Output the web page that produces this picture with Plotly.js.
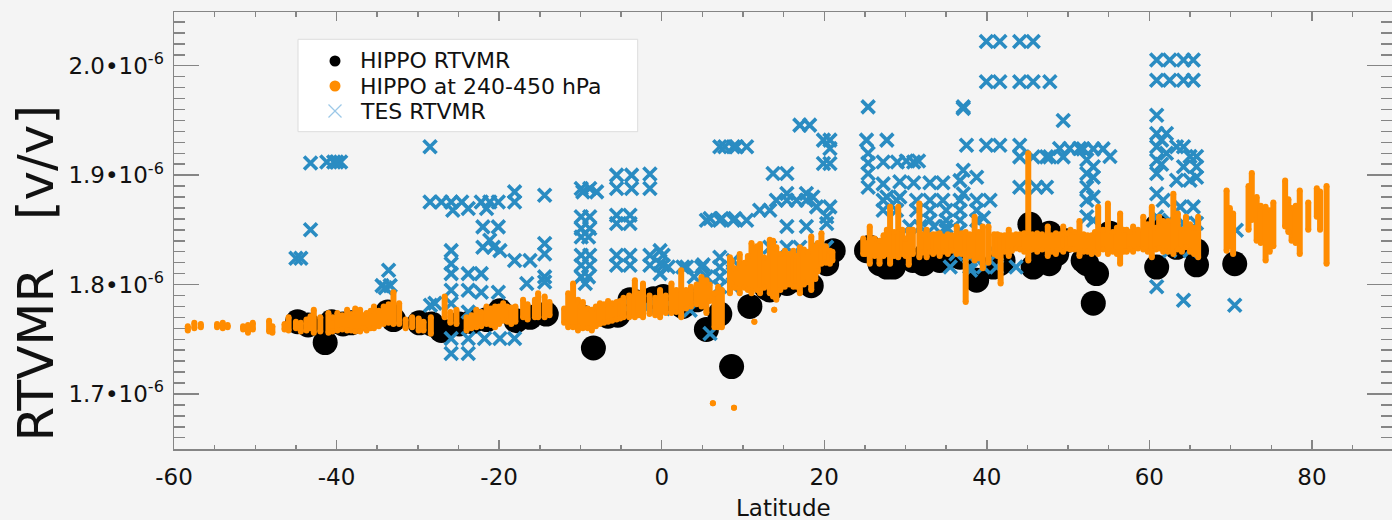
<!DOCTYPE html>
<html><head><meta charset="utf-8">
<script src="https://cdn.plot.ly/plotly-3.0.1.min.js"></script>
<style>html,body{margin:0;padding:0;background:#f4f4f4;} #chart{width:1392px;height:520px;}</style>
</head><body><div id="chart"></div>
<script>
// Values are RTVMR in units of 1e-6 v/v
const seriesNames = ['HIPPO RTVMR', 'HIPPO at 240-450 hPa', 'TES RTVMR'];
const seriesColors = ['#000000', '#ff8c00', '#2a8cc2'];

// HIPPO RTVMR: [latitude, value]
const hippoPoints = [
 [-44.8,1.766],[-43.5,1.763],[-41.4,1.747],[-40.6,1.766],[-39.2,1.764],[-38.2,1.765],
 [-33.7,1.775],[-33.0,1.768],[-29.8,1.765],[-28.3,1.764],[-27.1,1.758],[-24.9,1.764],[-23.3,1.766],
 [-21.5,1.768],[-19.9,1.776],[-17.9,1.767],[-16.2,1.770],[-14.2,1.773],
 [-9.7,1.770],[-8.4,1.742],[-6.6,1.771],[-5.4,1.772],[-3.9,1.786],[-3.1,1.784],[-1.0,1.787],
 [0.2,1.789],[0.6,1.787],[2.2,1.783],[2.6,1.780],[4.3,1.786],[5.5,1.759],[7.15,1.773],[8.6,1.725],
 [10.85,1.780],[12.9,1.797],[13.3,1.795],[15.4,1.801],[17.0,1.804],[18.4,1.799],[20.3,1.819],[21.1,1.831],
 [25.2,1.831],[25.6,1.834],[26.85,1.819],[27.7,1.816],[28.5,1.838],[28.5,1.816],[30.9,1.822],[32.2,1.819],
 [32.6,1.828],[34.2,1.822],[35.05,1.825],[36.7,1.825],[37.5,1.828],[38.75,1.804],[40.8,1.816],[41.6,1.819],
 [42.0,1.822],[45.3,1.855],[45.7,1.816],[46.4,1.820],[47.7,1.847],[47.7,1.819],[48.6,1.828],[49.8,1.840],
 [51.85,1.822],[52.3,1.819],[53.1,1.783],[53.5,1.810],[55.15,1.847],[60.9,1.853],[60.9,1.816],[62.5,1.847],
 [63.35,1.834],[65.8,1.831],[65.8,1.818],[70.5,1.819]
];

// HIPPO at 240-450 hPa: vertical profiles [latitude, lowest value, highest value]
const hippoMidPoints = [
 [-58.3,1.758,1.762],[-57.5,1.760,1.765],[-56.7,1.761,1.764],[-54.7,1.761,1.764],[-54.0,1.760,1.765],
 [-53.4,1.761,1.763],[-51.5,1.759,1.762],[-50.9,1.756,1.763],[-50.3,1.759,1.765],[-48.3,1.757,1.767],
 [-47.9,1.756,1.762],[-46.4,1.759,1.764],[-45.9,1.758,1.770],[-45.0,1.760,1.766],[-44.4,1.757,1.765],
 [-43.7,1.758,1.768],[-43.2,1.760,1.771],[-42.8,1.756,1.777],[-42.0,1.757,1.770],[-41.0,1.756,1.774],
 [-40.5,1.757,1.770],[-39.9,1.758,1.774],[-39.3,1.759,1.772],[-38.7,1.758,1.777],[-38.2,1.758,1.773],
 [-37.7,1.757,1.778],[-37.1,1.757,1.777],[-36.7,1.760,1.772],[-36.3,1.758,1.774],[-35.8,1.760,1.776],
 [-35.4,1.760,1.780],[-34.8,1.762,1.776],[-34.2,1.764,1.780],[-33.6,1.765,1.782],[-33.0,1.764,1.793],
 [-32.3,1.764,1.783],[-31.5,1.760,1.768],[-30.7,1.761,1.770],[-29.9,1.758,1.769],[-29.3,1.758,1.766],
 [-28.4,1.755,1.770],[-26.7,1.770,1.789],[-26.0,1.765,1.775],[-25.25,1.764,1.777],[-24.0,1.758,1.770],
 [-23.4,1.760,1.772],[-22.8,1.761,1.777],[-22.2,1.762,1.775],[-21.55,1.764,1.780],[-21.0,1.763,1.778],
 [-20.5,1.761,1.780],[-20.0,1.764,1.780],[-19.5,1.767,1.783],[-19.0,1.766,1.780],[-18.5,1.764,1.779],
 [-18.0,1.766,1.780],[-17.05,1.770,1.786],[-16.5,1.768,1.782],[-15.6,1.770,1.786],[-15.2,1.770,1.792],
 [-14.4,1.770,1.789],[-13.8,1.772,1.784],[-12.0,1.765,1.778],[-11.5,1.761,1.792],[-10.9,1.761,1.801],
 [-10.3,1.758,1.786],[-10.0,1.762,1.780],[-9.7,1.760,1.784],[-9.1,1.760,1.778],[-8.6,1.758,1.777],
 [-8.1,1.762,1.780],[-7.6,1.764,1.783],[-7.1,1.765,1.782],[-6.6,1.766,1.785],[-6.1,1.767,1.783],
 [-5.55,1.768,1.784],[-5.1,1.769,1.785],[-4.7,1.770,1.788],[-4.0,1.770,1.790],[-3.3,1.770,1.804],
 [-2.8,1.772,1.792],[-2.3,1.770,1.801],[-1.5,1.773,1.790],[-0.8,1.772,1.788],[-0.2,1.770,1.795],
 [0.5,1.774,1.790],[1.2,1.774,1.801],[1.8,1.775,1.795],[2.4,1.770,1.813],[3.0,1.778,1.795],
 [3.6,1.780,1.798],[4.3,1.782,1.800],[4.9,1.780,1.807],[5.5,1.774,1.804],[5.9,1.785,1.800],
 [6.5,1.761,1.792],[6.95,1.761,1.798],[7.4,1.761,1.795],[8.4,1.792,1.825],[8.6,1.801,1.822],
 [9.0,1.797,1.815],[9.6,1.792,1.828],[10.2,1.797,1.820],[10.6,1.795,1.826],[11.05,1.792,1.838],
 [11.7,1.795,1.835],[12.1,1.792,1.837],[12.6,1.797,1.825],[13.3,1.792,1.841],[13.7,1.789,1.840],
 [14.1,1.786,1.834],[14.6,1.795,1.828],[15.15,1.798,1.831],[15.7,1.800,1.828],[16.2,1.798,1.831],
 [16.6,1.798,1.826],[17.0,1.792,1.834],[17.5,1.800,1.832],[18.0,1.802,1.830],[18.4,1.795,1.844],
 [18.9,1.805,1.835],[19.2,1.812,1.838],[19.65,1.819,1.847],[20.2,1.820,1.835],[20.7,1.819,1.831],
 [21.0,1.822,1.830],
 [24.8,1.828,1.842],[25.1,1.828,1.838],[25.6,1.819,1.853],[26.2,1.826,1.842],[26.8,1.819,1.840],
 [27.3,1.826,1.845],[27.7,1.828,1.850],[28.1,1.819,1.871],[28.6,1.826,1.848],[29.1,1.825,1.871],
 [29.6,1.828,1.850],[30.0,1.826,1.842],[30.4,1.818,1.850],[30.9,1.828,1.850],[31.7,1.825,1.874],
 [32.1,1.829,1.846],[32.6,1.825,1.850],[33.0,1.830,1.845],[33.4,1.828,1.846],[33.8,1.830,1.846],
 [34.2,1.826,1.847],[34.7,1.830,1.844],[35.2,1.828,1.846],[35.7,1.831,1.845],[36.3,1.828,1.853],
 [36.9,1.828,1.847],[37.4,1.784,1.848],[37.9,1.826,1.846],[38.5,1.822,1.862],[39.0,1.824,1.848],
 [39.5,1.815,1.853],[40.2,1.820,1.853],[40.9,1.828,1.846],[41.3,1.826,1.846],[41.7,1.801,1.845],
 [42.2,1.830,1.845],[42.7,1.826,1.850],[43.1,1.831,1.845],[43.6,1.833,1.846],[44.1,1.832,1.846],
 [44.6,1.830,1.847],[45.1,1.822,1.920],[45.6,1.832,1.846],[46.2,1.830,1.847],[46.8,1.832,1.846],
 [47.5,1.826,1.853],[48.0,1.830,1.845],[48.5,1.828,1.847],[49.0,1.832,1.846],[49.4,1.830,1.853],
 [49.9,1.833,1.847],[50.3,1.832,1.850],[50.8,1.832,1.848],[51.4,1.826,1.858],[51.9,1.830,1.846],
 [52.4,1.830,1.845],[52.9,1.828,1.845],[53.3,1.830,1.848],[53.7,1.828,1.871],[54.3,1.832,1.850],
 [54.9,1.828,1.874],[55.5,1.830,1.848],[56.0,1.828,1.852],[56.4,1.819,1.865],[56.8,1.830,1.850],
 [57.2,1.830,1.850],[57.6,1.832,1.848],[58.0,1.830,1.853],[58.6,1.833,1.850],[59.25,1.832,1.862],
 [59.8,1.830,1.855],[60.3,1.825,1.871],[60.8,1.832,1.852],[61.2,1.833,1.862],[61.7,1.830,1.858],
 [62.3,1.830,1.858],[62.95,1.828,1.883],[63.5,1.832,1.865],[64.0,1.830,1.850],[64.5,1.834,1.862],
 [65.0,1.830,1.855],[65.5,1.828,1.852],[66.0,1.825,1.862],
 [69.5,1.831,1.886],[69.9,1.835,1.870],[70.3,1.828,1.865],[72.2,1.850,1.890],
 [72.6,1.859,1.902],[73.2,1.840,1.880],[73.7,1.838,1.872],[74.3,1.822,1.871],[74.8,1.830,1.868],
 [75.25,1.835,1.875],[76.7,1.853,1.895],[77.1,1.848,1.878],
 [77.5,1.840,1.870],[78.0,1.838,1.872],[78.5,1.828,1.886],[79.55,1.850,1.875],
 [80.6,1.862,1.888],[81.0,1.850,1.885],[81.8,1.819,1.890],
 [6.3,1.6915,1.6915],[8.9,1.6875,1.6875],[11.4,1.766,1.766],[13.85,1.777,1.777]
];

// TES RTVMR: [latitude, value]
const tesPoints = [
 [-45.0,1.824],[-44.4,1.824],[-43.2,1.850],[-43.2,1.911],[-41.2,1.912],[-40.35,1.912],[-39.5,1.912],[-40.0,1.912],
 [-34.4,1.799],[-33.4,1.799],[-34.0,1.797],[-33.6,1.813],
 [-28.5,1.926],[-28.5,1.8755],[-28.45,1.781],[-27.9,1.783],
 [-27.1,1.8755],[-25.9,1.8755],[-24.6,1.8755],[-25.7,1.868],[-23.8,1.8695],
 [-22.2,1.8755],[-21.15,1.8755],[-20.1,1.8755],[-21.55,1.8695],
 [-22.0,1.8527],[-20.1,1.8527],[-21.15,1.8405],[-22.0,1.834],[-20.7,1.834],[-19.9,1.831],
 [-25.9,1.831],[-25.9,1.819],[-25.9,1.810],[-23.8,1.810],[-22.2,1.810],[-25.9,1.7948],[-23.8,1.7948],
 [-22.2,1.793],[-20.1,1.793],[-25.9,1.7826],[-23.8,1.775],[-25.9,1.7506],[-23.8,1.7506],[-25.9,1.737],
 [-23.8,1.737],[-21.8,1.7506],[-19.9,1.7506],[-18.1,1.7506],
 [-18.1,1.8847],[-18.1,1.8755],[-14.4,1.8817],[-18.1,1.822],[-16.2,1.822],[-14.4,1.8375],[-14.4,1.828],
 [-14.4,1.807],[-14.4,1.8024],[-16.6,1.801],
 [-9.9,1.8878],[-8.85,1.8878],[-9.7,1.8847],[-8.0,1.8847],
 [-9.9,1.862],[-8.85,1.862],[-9.9,1.8512],[-8.85,1.8512],[-9.9,1.8435],[-9.0,1.8435],
 [-9.9,1.8268],[-8.85,1.8268],[-9.9,1.8177],[-8.85,1.8177],[-9.9,1.807],[-9.0,1.807],[-9.4,1.801],
 [-5.55,1.900],[-3.7,1.900],[-1.45,1.901],[-5.55,1.8878],[-3.7,1.8878],[-1.45,1.8878],
 [-5.55,1.8634],[-3.9,1.8634],[-5.55,1.8558],[-3.9,1.8558],
 [-5.55,1.8268],[-3.9,1.8268],[-1.45,1.8268],[0.18,1.8268],[-5.55,1.8177],[-3.9,1.8177],[-1.45,1.8177],
 [0.18,1.8177],[0.8,1.816],[-3.9,1.781],[-1.67,1.7795],[0.18,1.778],
 [-0.2,1.831],[-0.2,1.819],[-0.2,1.810],
 [3.06,1.816],[4.9,1.816],[7.15,1.816],[2.6,1.816],[7.15,1.825],[7.15,1.807],[3.05,1.789],[3.5,1.7765],[5.95,1.7552],
 [5.5,1.8588],[7.15,1.8588],[8.8,1.8588],[10.45,1.8588],[5.95,1.8604],[7.4,1.8604],[9.0,1.8604],
 [7.15,1.926],[8.8,1.926],[10.45,1.926],[7.76,1.926],[9.2,1.926],
 [12.05,1.868],[13.3,1.868],[13.7,1.9015],[15.4,1.9015],
 [4.0,1.807],[5.5,1.807],[8.8,1.822],[8.8,1.810],[7.15,1.798],[8.8,1.798],[5.1,1.818],
 [10.45,1.804],[12.1,1.804],[13.3,1.834],[15.4,1.834],[17.0,1.834],[16.6,1.822],[18.2,1.822],[19.05,1.834],
 [20.3,1.834],[13.3,1.816],[15.4,1.816],
 [14.1,1.877],[15.4,1.877],[16.6,1.877],[17.8,1.877],[18.6,1.880],[15.4,1.8832],[17.8,1.8832],
 [19.05,1.871],[20.7,1.871],[20.3,1.862],[20.3,1.8558],[15.4,1.853],[17.8,1.853],
 [17.0,1.9457],[18.2,1.9457],[19.9,1.932],[20.7,1.932],[20.7,1.9244],[19.9,1.9107],[20.7,1.9107],
 [25.4,1.9624],[37.1,1.9624],
 [25.2,1.932],[27.7,1.932],[25.4,1.920],[25.4,1.911],[25.4,1.9015],[25.4,1.889],
 [27.25,1.912],[29.0,1.912],[31.0,1.912],[30.1,1.913],[31.6,1.913],
 [27.25,1.892],[29.3,1.894],[31.0,1.893],[33.0,1.893],[34.6,1.893],[36.7,1.895],
 [27.25,1.877],[28.9,1.877],[31.35,1.877],[33.0,1.877],[34.6,1.877],[36.7,1.877],[38.75,1.877],[40.4,1.877],
 [27.25,1.868],[28.9,1.868],[31.35,1.868],[33.0,1.868],[35.0,1.868],[36.7,1.868],[38.75,1.868],
 [33.0,1.8588],[35.0,1.8588],[36.7,1.8588],[38.75,1.8588],[39.6,1.861],
 [35.0,1.8497],[36.7,1.8497],[28.9,1.834],[30.5,1.853],[31.8,1.853],[33.5,1.853],[35.0,1.853],
 [36.0,1.8405],[37.5,1.8405],[27.7,1.880],[29.3,1.880],
 [35.5,1.816],[37.9,1.816],[39.6,1.816],[41.2,1.816],[43.6,1.816],[37.9,1.825],[41.2,1.828],[36.2,1.828],[38.0,1.813],
 [37.5,1.9274],[39.95,1.9274],[41.6,1.9274],[44.05,1.9274],
 [45.7,1.9167],[47.35,1.9167],[48.95,1.9244],[50.2,1.9244],[51.4,1.9244],[44.05,1.9167],[47.75,1.9167],[49.4,1.9167],
 [51.85,1.924],[53.1,1.924],[54.3,1.924],[55.15,1.917],
 [53.1,1.9076],[53.1,1.898],[53.1,1.880],[53.1,1.8588],[52.3,1.914],[52.3,1.9015],[52.3,1.889],[52.3,1.877],[52.3,1.862],
 [37.1,1.9045],[38.75,1.898],[37.1,1.883],[44.05,1.889],[46.1,1.889],[47.35,1.889],
 [39.95,2.0222],[41.6,2.0222],[44.05,2.0222],[45.7,2.0222],
 [39.95,1.9853],[41.6,1.9853],[44.05,1.9853],[45.7,1.9853],[47.75,1.9853],
 [37.1,1.961],[49.4,1.950],
 [60.9,2.0052],[62.5,2.0052],[64.2,2.0052],[65.4,2.0052],
 [60.9,1.9868],[62.5,1.9868],[64.2,1.9868],[65.4,1.9868],
 [60.9,1.9548],[60.9,1.938],[62.1,1.938],[61.5,1.932],[60.9,1.926],[60.9,1.9137],[60.9,1.9015],[61.5,1.910],[62.1,1.920],
 [63.35,1.926],[64.2,1.926],[64.2,1.9076],[65.8,1.9076],[65.0,1.917],[65.8,1.917],[63.35,1.8954],[65.0,1.8954],[65.8,1.898],
 [60.9,1.883],[61.7,1.877],[63.8,1.871],[65.4,1.871],[60.9,1.862],[62.5,1.8588],[64.2,1.856],[65.8,1.856],[65.0,1.8466],
 [62.5,1.831],[65.0,1.831],[63.0,1.840],[64.5,1.838],[61.5,1.845],
 [60.9,1.798],[64.2,1.7856],[70.5,1.781],[70.7,1.8497]
];

const xTickVals = [-60, -40, -20, 0, 20, 40, 60, 80];
const xTickText = ['-60', '-40', '-20', '0', '20', '40', '60', '80'];
const yTickVals = [1.7, 1.8, 1.9, 2.0];
const yTickText = ['1.7•10<sup>-6</sup>', '1.8•10<sup>-6</sup>', '1.9•10<sup>-6</sup>', '2.0•10<sup>-6</sup>'];

const FONT = 'DejaVu Sans, Liberation Sans, Arial, sans-serif';
const AXC = '#858585';
const W = 1392, H = 520, ML = 174, MR = 0, MT = 12, MB = 71;
const PW = W - ML - MR, PH = H - MT - MB;
const px = v => (v - ML) / PW;          // pixel -> paper x
const py = v => 1 - (v - MT) / PH;      // pixel -> paper y

const ox = [], oy = [];
hippoMidPoints.forEach(p => { ox.push(p[0], p[0], null); oy.push(p[1], p[2], null); });

const traces = [
  {type:'scatter', mode:'markers', name: seriesNames[0], x: hippoPoints.map(p=>p[0]), y: hippoPoints.map(p=>p[1]),
   marker:{color:seriesColors[0], size:25}, hoverinfo:'skip'},
  {type:'scatter', mode:'markers', name: seriesNames[2], x: tesPoints.map(p=>p[0]), y: tesPoints.map(p=>p[1]),
   marker:{symbol:'x-thin', size:13, color:seriesColors[2], line:{color:seriesColors[2], width:3.6}}, hoverinfo:'skip'},
  {type:'scatter', mode:'lines+markers', name: seriesNames[1], x: ox, y: oy, connectgaps:false,
   line:{color:seriesColors[1], width:6}, marker:{color:seriesColors[1], size:6}, hoverinfo:'skip'}
];

// hand-drawn legend (box, symbols, labels)
const legRows = [61, 86, 111];
const legSymX = 335, legTextX = 358;
const shapes = [
  {type:'rect', xref:'paper', yref:'paper', x0:px(298), x1:px(637.7), y0:py(131.7), y1:py(39.3),
   fillcolor:'#ffffff', line:{color:'#dcdcdc', width:1}, layer:'below'},
  {type:'circle', xref:'paper', yref:'paper', xsizemode:'pixel', ysizemode:'pixel', xanchor:px(legSymX), yanchor:py(legRows[0]),
   x0:-5.5, x1:5.5, y0:-5.5, y1:5.5, fillcolor:seriesColors[0], line:{width:0}},
  {type:'circle', xref:'paper', yref:'paper', xsizemode:'pixel', ysizemode:'pixel', xanchor:px(legSymX), yanchor:py(legRows[1]),
   x0:-5.5, x1:5.5, y0:-5.5, y1:5.5, fillcolor:seriesColors[1], line:{width:0}},
  {type:'line', xref:'paper', yref:'paper', xsizemode:'pixel', ysizemode:'pixel', xanchor:px(legSymX), yanchor:py(legRows[2]),
   x0:-6.5, x1:6.5, y0:-6.5, y1:6.5, line:{color:'#9cc8e8', width:1.3}},
  {type:'line', xref:'paper', yref:'paper', xsizemode:'pixel', ysizemode:'pixel', xanchor:px(legSymX), yanchor:py(legRows[2]),
   x0:-6.5, x1:6.5, y0:6.5, y1:-6.5, line:{color:'#9cc8e8', width:1.3}}
];
const legendTexts = seriesNames.map((t, i) => ({
  text:t, xref:'paper', yref:'paper', x:px(legTextX), y:py(legRows[i]), xanchor:'left', yanchor:'middle',
  showarrow:false, font:{family:FONT, size:22, color:'#111111'}
}));

const layout = {
  width:W, height:H,
  margin:{l:ML, r:MR, t:MT, b:MB},
  paper_bgcolor:'#f4f4f4', plot_bgcolor:'#f4f4f4',
  font:{family:FONT, color:'#111111', size:23},
  showlegend:false,
  xaxis:{range:[-60, 89.85], tickmode:'array', tickvals:xTickVals, ticktext:xTickText,
         showgrid:false, zeroline:false, showline:true, linecolor:AXC, linewidth:1.5, mirror:'allticks',
         ticks:'inside', ticklen:9, tickwidth:1.5, tickcolor:AXC, ticklabelstandoff:7,
         tickfont:{family:FONT, size:23, color:'#111111'},
         minor:{tickmode:'linear', tick0:0, dtick:5, ticks:'inside', ticklen:4.5, tickwidth:1.5, tickcolor:AXC, showgrid:false}},
  yaxis:{range:[1.6497, 2.0491], tickmode:'array', tickvals:yTickVals, ticktext:yTickText,
         showgrid:false, zeroline:false, showline:true, linecolor:AXC, linewidth:1.5, mirror:'allticks',
         ticks:'inside', ticklen:25, tickwidth:1.5, tickcolor:AXC, ticklabelstandoff:4,
         tickfont:{family:FONT, size:23, color:'#111111'},
         minor:{tickmode:'linear', tick0:0, dtick:0.01, ticks:'inside', ticklen:11, tickwidth:1.5, tickcolor:AXC, showgrid:false}},
  shapes: shapes,
  annotations: legendTexts.concat([
    {text:'Latitude', xref:'paper', yref:'paper', x:0.5, y:py(508), xanchor:'center', yanchor:'middle',
     showarrow:false, font:{family:FONT, size:23, color:'#111111'}},
    {text:'RTVMR\u00a0\u00a0\u00a0[v/v]', xref:'paper', yref:'paper', x:px(35), y:py(273.5), xanchor:'center', yanchor:'middle',
     textangle:-90, showarrow:false, font:{family:FONT, size:50, color:'#111111'}}
  ])
};

Plotly.newPlot('chart', traces, layout, {staticPlot:true, displayModeBar:false});
</script></body></html>
